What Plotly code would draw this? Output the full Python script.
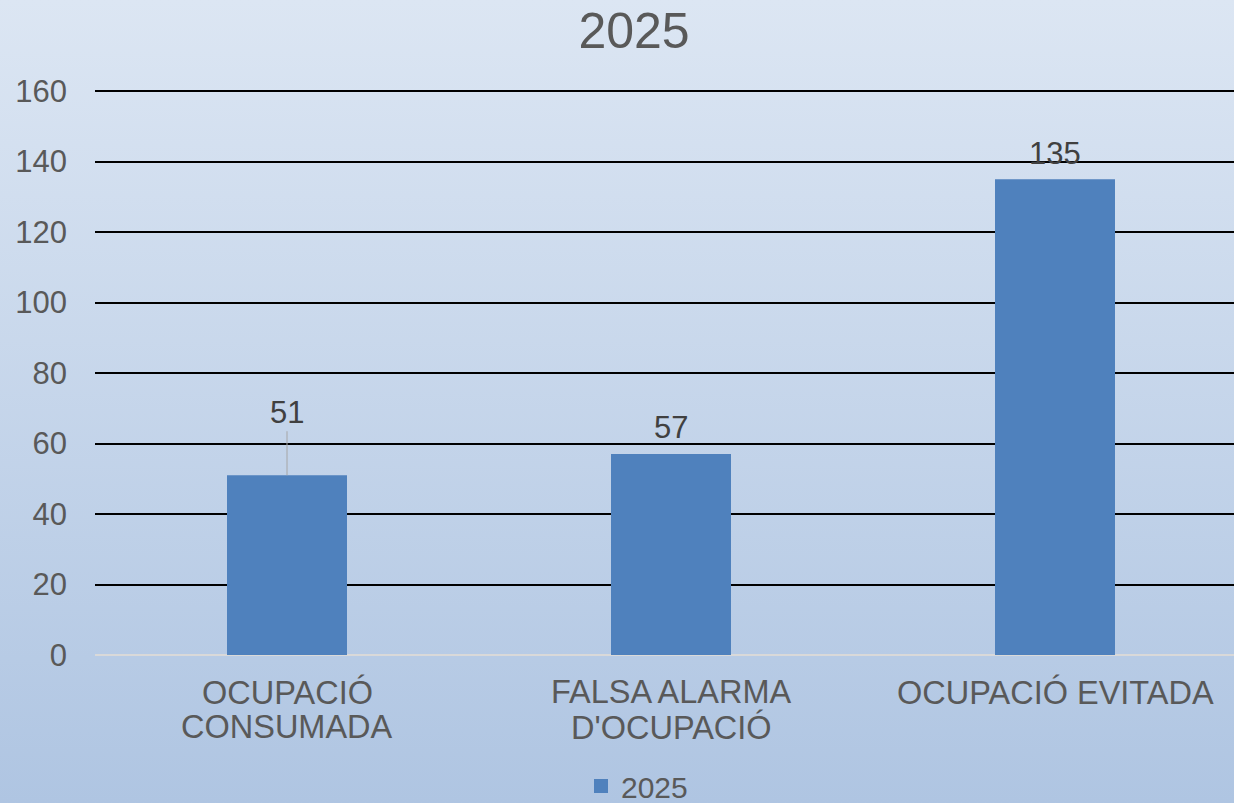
import base64
import plotly.graph_objects as go

categories = ["OCUPACIÓ<br>CONSUMADA", "FALSA ALARMA<br>D'OCUPACIÓ", "OCUPACIÓ EVITADA"]
values_2025 = [51, 57, 135]
series_name = "2025"
y_ticks = [0, 20, 40, 60, 80, 100, 120, 140, 160]
label_shift = [63, 27, 26]

W, H = 1234, 803
ML, MR, MT, MB = 95, 0, 90, 148
PW, PH = W - ML - MR, H - MT - MB
FONT = "Liberation Sans, Arial, sans-serif"

svg = (f'<svg xmlns="http://www.w3.org/2000/svg" width="{W}" height="{H}" viewBox="0 0 {W} {H}" preserveAspectRatio="none">'
       '<defs><linearGradient id="g" x1="0" y1="0" x2="0" y2="1">'
       '<stop offset="0" stop-color="#DCE6F3"/><stop offset="1" stop-color="#AFC5E2"/>'
       '</linearGradient></defs>'
       f'<rect width="{W}" height="{H}" fill="url(#g)"/></svg>')
src = "data:image/svg+xml;base64," + base64.b64encode(svg.encode()).decode()

fig = go.Figure()
fig.add_trace(go.Bar(
    x=categories, y=values_2025, name=series_name,
    marker=dict(color="#4F81BD", line=dict(width=0)),
    width=0.3125, showlegend=False,
))
fig.add_trace(go.Scatter(
    x=[None], y=[None], mode="markers", name=series_name,
    marker=dict(symbol="square", size=14, color="#4F81BD"), showlegend=True,
))

for cat, v, s in zip(categories, values_2025, label_shift):
    if s > 40:
        fig.add_annotation(x=cat, y=v, text=str(v), showarrow=True, arrowhead=0,
                           arrowwidth=1, arrowcolor="#A6A6A6", ax=0, ay=-s,
                           font=dict(family=FONT, size=31, color="#404040"))
    else:
        fig.add_annotation(x=cat, y=v, text=str(v), showarrow=False, yanchor="middle",
                           yshift=s, font=dict(family=FONT, size=31, color="#404040"))

# category labels, one annotation per line for Excel-like line spacing
for cat in categories:
    for i, line in enumerate(cat.split("<br>")):
        fig.add_annotation(x=cat, xref="x", y=0, yref="paper", text=line,
                           showarrow=False, yanchor="middle", yshift=-37 - 35 * i,
                           font=dict(family=FONT, size=32.5, color="#595959"))

fig.add_layout_image(dict(
    source=src, xref="paper", yref="paper",
    x=-ML / PW, y=1 + MT / PH, sizex=W / PW, sizey=H / PH,
    xanchor="left", yanchor="top", sizing="stretch", layer="below",
))

fig.update_layout(
    width=W, height=H,
    margin=dict(l=ML, r=MR, t=MT, b=MB),
    paper_bgcolor="#C6D7EB", plot_bgcolor="rgba(0,0,0,0)",
    title=dict(text="2025", x=634 / W, xref="container", y=1 - 30 / H, yref="container",
               xanchor="center", yanchor="middle",
               font=dict(family=FONT, size=50, color="#595959")),
    font=dict(family=FONT, size=31, color="#595959"),
    xaxis=dict(range=[-0.5, -0.5 + PW / 384], showgrid=False, showline=False,
               automargin=False, ticks="", showticklabels=False),
    yaxis=dict(range=[0, 160.3], tickvals=y_ticks, showgrid=True, gridcolor="#000000",
               gridwidth=1.5, zeroline=True, zerolinecolor="#D9D9D9", zerolinewidth=1.5,
               showline=False, ticks="", ticklabelstandoff=27, automargin=False,
               tickfont=dict(size=31, color="#595959")),
    legend=dict(orientation="h", x=(637 - ML) / PW, xanchor="center",
                yref="container", y=1 - 786 / H, yanchor="middle",
                font=dict(size=30, color="#595959"),
                bgcolor="rgba(0,0,0,0)", itemwidth=30),
)

fig.write_html("out.html", config={"displayModeBar": False},
               post_script="document.body.style.margin='0';document.body.style.padding='0';")
